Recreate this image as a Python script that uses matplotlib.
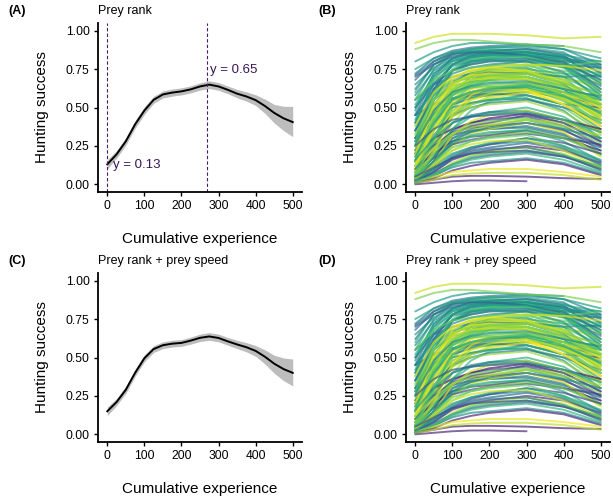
import numpy as np
import matplotlib
matplotlib.use('Agg')
import matplotlib.pyplot as plt

plt.rcParams['font.family'] = ['Liberation Sans', 'DejaVu Sans']

# population curve, x every 25
xs = [0, 25, 50, 75, 100, 125, 150, 175, 200, 225, 250, 275, 300, 325, 350, 375, 400, 425, 450, 475, 500]
a_mean = [0.13, 0.195, 0.28, 0.39, 0.48, 0.55, 0.585, 0.597, 0.605, 0.618, 0.637, 0.649, 0.637, 0.615, 0.59, 0.572, 0.548, 0.51, 0.465, 0.43, 0.405]
a_low = [0.10, 0.17, 0.255, 0.365, 0.455, 0.527, 0.562, 0.574, 0.582, 0.595, 0.613, 0.624, 0.612, 0.59, 0.563, 0.542, 0.513, 0.462, 0.40, 0.35, 0.31]
a_up = [0.16, 0.22, 0.305, 0.415, 0.505, 0.573, 0.608, 0.62, 0.628, 0.641, 0.661, 0.674, 0.662, 0.64, 0.617, 0.602, 0.583, 0.555, 0.52, 0.508, 0.507]
c_mean = [0.15, 0.21, 0.29, 0.40, 0.495, 0.555, 0.58, 0.59, 0.595, 0.61, 0.628, 0.637, 0.627, 0.605, 0.585, 0.567, 0.543, 0.505, 0.46, 0.425, 0.40]
c_low = [0.122, 0.187, 0.267, 0.377, 0.472, 0.533, 0.558, 0.568, 0.573, 0.587, 0.604, 0.612, 0.602, 0.58, 0.558, 0.537, 0.508, 0.458, 0.398, 0.35, 0.315]
c_up = [0.178, 0.233, 0.313, 0.423, 0.518, 0.577, 0.602, 0.612, 0.617, 0.633, 0.652, 0.662, 0.652, 0.63, 0.612, 0.597, 0.578, 0.55, 0.515, 0.497, 0.49]

# markers for panel A
vlines_x = [0, 268]
label_low = 'y = 0.13'
label_peak = 'y = 0.65'

# individual curves, read at these x
ind_x = [0, 50, 100, 150, 200, 300, 400, 500]
ind_curves = [
    [0.92, 0.96, 0.98, 0.98, 0.98, 0.97, 0.95, 0.96],
    [0.71, 0.80, 0.86, 0.88, 0.89, 0.90, 0.88, 0.78],
    [0.72, 0.82, 0.87, 0.89, 0.90, 0.91, 0.90, None],
    [0.55, 0.75, 0.85, 0.88, 0.89, 0.89, 0.86, 0.72],
    [0.45, 0.70, 0.82, 0.86, 0.87, 0.88, 0.84, 0.65],
    [0.80, 0.86, 0.90, 0.92, 0.92, 0.91, 0.88, 0.82],
    [0.60, 0.78, 0.85, 0.87, 0.88, 0.87, 0.82, 0.70],
    [0.35, 0.62, 0.78, 0.84, 0.86, 0.86, 0.80, 0.62],
    [0.70, 0.78, 0.83, 0.85, 0.86, 0.84, 0.78, 0.60],
    [0.25, 0.55, 0.74, 0.80, 0.83, 0.85, 0.80, 0.68],
    [0.40, 0.65, 0.78, 0.82, 0.84, 0.86, 0.83, 0.75],
    [0.50, 0.72, 0.80, 0.83, 0.84, 0.83, 0.77, 0.58],
    [0.88, 0.92, 0.94, 0.94, 0.93, 0.91, 0.90, 0.86],
    [0.65, 0.76, 0.82, 0.84, 0.85, 0.84, 0.81, 0.80],
    [0.20, 0.45, 0.65, 0.73, 0.77, 0.80, 0.72, 0.55],
    [0.15, 0.40, 0.60, 0.70, 0.75, 0.78, 0.70, 0.50],
    [0.30, 0.52, 0.66, 0.72, 0.75, 0.76, 0.68, 0.52],
    [0.10, 0.35, 0.58, 0.68, 0.72, 0.75, 0.70, 0.62],
    [0.25, 0.48, 0.62, 0.68, 0.71, 0.73, 0.66, 0.45],
    [0.45, 0.60, 0.68, 0.72, 0.74, 0.75, 0.72, 0.70],
    [0.08, 0.30, 0.55, 0.66, 0.70, 0.74, 0.68, 0.50],
    [0.35, 0.55, 0.66, 0.70, 0.72, 0.72, 0.65, 0.48],
    [0.12, 0.38, 0.60, 0.70, 0.74, 0.77, 0.74, 0.67],
    [0.20, 0.42, 0.58, 0.65, 0.68, 0.70, 0.64, 0.45],
    [0.05, 0.25, 0.50, 0.62, 0.68, 0.72, 0.67, 0.53],
    [0.40, 0.58, 0.67, 0.70, 0.71, 0.70, 0.62, 0.42],
    [0.55, 0.65, 0.70, 0.72, 0.73, 0.72, 0.70, 0.71],
    [0.18, 0.40, 0.58, 0.66, 0.70, 0.73, 0.70, 0.58],
    [0.10, 0.30, 0.50, 0.58, 0.62, 0.65, 0.58, 0.42],
    [0.05, 0.22, 0.45, 0.56, 0.60, 0.64, 0.60, 0.48],
    [0.30, 0.45, 0.55, 0.59, 0.61, 0.62, 0.55, 0.38],
    [0.15, 0.35, 0.52, 0.58, 0.60, 0.62, 0.56, 0.40],
    [0.22, 0.40, 0.52, 0.56, 0.58, 0.60, 0.57, 0.52],
    [0.08, 0.28, 0.48, 0.55, 0.58, 0.60, 0.52, 0.35],
    [0.35, 0.48, 0.55, 0.57, 0.58, 0.60, 0.60, 0.58],
    [0.03, 0.18, 0.40, 0.52, 0.57, 0.62, 0.57, 0.44],
    [0.12, 0.30, 0.46, 0.52, 0.55, 0.58, 0.52, 0.36],
    [0.45, 0.52, 0.56, 0.58, 0.59, 0.58, 0.52, 0.50],
    [0.20, 0.36, 0.48, 0.53, 0.55, 0.56, 0.50, 0.34],
    [0.06, 0.24, 0.44, 0.52, 0.56, 0.60, 0.58, 0.55],
    [0.28, 0.42, 0.50, 0.53, 0.55, 0.56, 0.48, 0.30],
    [0.02, 0.15, 0.36, 0.48, 0.54, 0.58, 0.52, 0.40],
    [0.15, 0.32, 0.45, 0.50, 0.53, 0.55, 0.50, 0.42],
    [0.10, 0.28, 0.44, 0.50, 0.52, 0.54, 0.47, 0.33],
    [0.05, 0.18, 0.32, 0.38, 0.40, 0.45, 0.40, 0.28],
    [0.08, 0.22, 0.35, 0.40, 0.42, 0.44, 0.38, 0.25],
    [0.03, 0.15, 0.30, 0.36, 0.38, 0.42, 0.36, 0.22],
    [0.12, 0.25, 0.34, 0.37, 0.38, 0.40, 0.35, 0.25],
    [0.02, 0.12, 0.28, 0.35, 0.38, 0.42, 0.40, 0.35],
    [0.06, 0.18, 0.30, 0.34, 0.36, 0.38, 0.33, 0.20],
    [0.10, 0.20, 0.28, 0.31, 0.32, 0.35, 0.30, 0.22],
    [0.04, 0.14, 0.26, 0.31, 0.33, 0.36, 0.31, 0.19],
    [0.15, 0.25, 0.32, 0.35, 0.36, 0.37, 0.32, 0.24],
    [0.02, 0.10, 0.25, 0.33, 0.36, 0.40, 0.34, 0.18],
    [0.08, 0.17, 0.26, 0.29, 0.31, 0.33, 0.30, 0.26],
    [0.05, 0.15, 0.27, 0.32, 0.34, 0.35, 0.28, 0.15],
    [0.20, 0.30, 0.36, 0.40, 0.43, 0.46, 0.42, 0.36],
    [0.03, 0.12, 0.22, 0.28, 0.31, 0.34, 0.30, 0.20],
    [0.02, 0.08, 0.16, 0.20, 0.22, 0.25, 0.22, 0.14],
    [0.05, 0.12, 0.20, 0.24, 0.26, 0.28, 0.24, 0.15],
    [0.01, 0.06, 0.14, 0.19, 0.21, 0.24, 0.20, 0.10],
    [0.03, 0.09, 0.17, 0.21, 0.23, 0.24, 0.19, 0.09],
    [0.02, 0.07, 0.13, 0.17, 0.19, 0.21, 0.18, 0.12],
    [0.01, 0.05, 0.12, 0.16, 0.18, 0.20, 0.16, 0.08],
    [0.04, 0.10, 0.18, 0.23, 0.26, 0.30, 0.27, 0.20],
    [0.02, 0.06, 0.11, 0.14, 0.15, 0.17, 0.14, 0.07],
    [0.01, 0.04, 0.09, 0.12, 0.14, 0.16, 0.13, 0.06],
    [0.06, 0.14, 0.24, 0.28, 0.30, 0.32, 0.25, 0.12],
    [0.02, 0.05, 0.08, 0.09, 0.10, 0.10, 0.08, 0.05],
    [0.01, 0.03, 0.05, 0.055, 0.055, 0.05, 0.04, 0.035],
    [0.00, 0.01, 0.02, 0.025, 0.025, 0.02, None, None],
    [0.01, 0.03, 0.06, 0.07, 0.075, 0.075, 0.06, 0.03],
    [0.12, 0.45, 0.68, 0.75, 0.76, 0.74, 0.64, 0.50],
    [0.18, 0.50, 0.66, 0.70, 0.72, 0.72, 0.66, 0.58],
    [0.08, 0.40, 0.62, 0.68, 0.70, 0.68, 0.58, 0.45],
    [0.25, 0.55, 0.70, 0.74, 0.75, 0.73, 0.68, 0.66],
    [0.05, 0.30, 0.52, 0.60, 0.63, 0.62, 0.52, 0.38],
    [0.15, 0.45, 0.62, 0.66, 0.67, 0.65, 0.55, 0.40],
    [0.30, 0.60, 0.74, 0.78, 0.80, 0.80, 0.76, 0.72],
    [0.10, 0.35, 0.55, 0.62, 0.64, 0.63, 0.55, 0.48],
    [0.45, 0.62, 0.72, 0.76, 0.78, 0.80, 0.78, 0.76],
    [0.38, 0.55, 0.64, 0.67, 0.68, 0.68, 0.62, 0.56],
    [0.50, 0.65, 0.74, 0.78, 0.80, 0.81, 0.80, 0.78],
    [0.33, 0.50, 0.60, 0.63, 0.64, 0.63, 0.54, 0.40],
    [0.28, 0.46, 0.56, 0.60, 0.62, 0.64, 0.60, 0.55],
    [0.62, 0.78, 0.84, 0.86, 0.87, 0.88, 0.85, 0.76],
    [0.48, 0.72, 0.82, 0.85, 0.86, 0.86, 0.82, 0.70],
    [0.30, 0.62, 0.78, 0.83, 0.85, 0.86, 0.83, 0.73],
    [0.58, 0.74, 0.81, 0.83, 0.84, 0.84, 0.78, 0.62],
    [0.40, 0.68, 0.80, 0.83, 0.84, 0.85, 0.80, 0.66],
    [0.68, 0.80, 0.85, 0.86, 0.86, 0.84, 0.79, 0.68],
    [0.22, 0.55, 0.74, 0.80, 0.82, 0.84, 0.82, 0.77],
    [0.52, 0.70, 0.78, 0.81, 0.82, 0.82, 0.76, 0.58],
    [0.35, 0.60, 0.74, 0.79, 0.81, 0.82, 0.77, 0.64],
    [0.75, 0.82, 0.86, 0.87, 0.87, 0.86, 0.84, 0.80],
    [0.28, 0.58, 0.75, 0.81, 0.83, 0.83, 0.78, 0.60],
    [0.42, 0.66, 0.77, 0.80, 0.81, 0.80, 0.73, 0.55],
    [0.10, 0.42, 0.64, 0.72, 0.74, 0.74, 0.66, 0.52],
    [0.06, 0.35, 0.58, 0.66, 0.69, 0.70, 0.63, 0.50],
    [0.20, 0.50, 0.66, 0.71, 0.72, 0.70, 0.60, 0.44],
    [0.04, 0.28, 0.54, 0.64, 0.68, 0.70, 0.64, 0.55],
    [0.14, 0.44, 0.62, 0.68, 0.70, 0.69, 0.60, 0.46],
    [0.08, 0.38, 0.60, 0.68, 0.71, 0.72, 0.66, 0.58],
    [0.24, 0.52, 0.64, 0.68, 0.69, 0.68, 0.58, 0.42],
    [0.02, 0.20, 0.46, 0.58, 0.63, 0.66, 0.60, 0.50],
    [0.16, 0.42, 0.58, 0.63, 0.65, 0.66, 0.60, 0.52],
    [0.32, 0.55, 0.66, 0.70, 0.71, 0.70, 0.63, 0.52],
    [0.06, 0.30, 0.52, 0.60, 0.63, 0.65, 0.58, 0.46],
    [0.12, 0.36, 0.54, 0.60, 0.62, 0.61, 0.52, 0.38],
    [0.18, 0.40, 0.55, 0.60, 0.62, 0.63, 0.57, 0.47],
    [0.03, 0.22, 0.45, 0.55, 0.59, 0.62, 0.56, 0.44],
    [0.26, 0.48, 0.60, 0.64, 0.66, 0.67, 0.62, 0.57],
    [0.04, 0.18, 0.36, 0.44, 0.47, 0.50, 0.44, 0.30],
    [0.10, 0.26, 0.40, 0.45, 0.47, 0.48, 0.42, 0.30],
    [0.02, 0.14, 0.32, 0.41, 0.45, 0.48, 0.42, 0.30],
    [0.16, 0.30, 0.40, 0.44, 0.46, 0.47, 0.42, 0.34],
    [0.07, 0.20, 0.33, 0.39, 0.41, 0.43, 0.37, 0.27],
    [0.25, 0.36, 0.42, 0.44, 0.45, 0.46, 0.40, 0.28],
    [0.03, 0.15, 0.28, 0.34, 0.37, 0.40, 0.36, 0.30],
    [0.12, 0.24, 0.33, 0.37, 0.39, 0.42, 0.38, 0.32],
    [0.03, 0.10, 0.19, 0.24, 0.27, 0.30, 0.25, 0.16],
    [0.02, 0.08, 0.17, 0.22, 0.24, 0.27, 0.23, 0.13],
    [0.04, 0.12, 0.22, 0.26, 0.28, 0.29, 0.22, 0.11],
    [0.01, 0.06, 0.13, 0.18, 0.20, 0.22, 0.19, 0.11],
    [0.05, 0.11, 0.17, 0.20, 0.21, 0.22, 0.18, 0.10],
    [0.55, 0.68, 0.74, 0.76, 0.77, 0.78, 0.77, 0.80],
    [0.38, 0.60, 0.70, 0.74, 0.76, 0.78, 0.77, 0.74],
]
# colour value (viridis) for each individual
ind_col = [0.92, 0.45, 0.40, 0.60, 0.35, 0.55, 0.65, 0.50, 0.30, 0.75,
           0.45, 0.58, 0.80, 0.50, 0.85, 0.70, 0.55, 0.90, 0.48, 0.62,
           0.95, 0.40, 0.78, 0.68, 0.88, 0.52, 0.42, 0.60, 0.82, 0.92,
           0.45, 0.72, 0.35, 0.98, 0.55, 0.86, 0.62, 0.30, 0.76, 0.94,
           0.50, 0.66, 0.40, 0.84, 0.10, 0.25, 0.55, 0.15, 0.90, 0.45,
           0.08, 0.70, 0.35, 0.95, 0.20, 0.60, 0.05, 0.80, 0.12, 0.50,
           0.88, 0.40, 0.30, 0.65, 0.20, 0.48, 0.10, 0.75, 0.97, 0.08,
           0.10, 0.90, 0.99, 0.93, 0.97, 0.87, 0.99, 0.80, 0.70, 0.95,
           0.45, 0.65, 0.35, 0.80, 0.57,
           0.42, 0.52, 0.38, 0.47, 0.60, 0.33, 0.55, 0.63, 0.44, 0.58,
           0.68, 0.50, 0.90, 0.82, 0.95, 0.74, 0.86, 0.78, 0.92, 0.96,
           0.72, 0.84, 0.66, 0.99, 0.58, 0.88, 0.48, 0.62, 0.40, 0.92,
           0.53, 0.78, 0.28, 0.45, 0.85, 0.58, 0.35, 0.92, 0.70, 0.25,
           0.75, 0.95]

W, H = 613, 500
fig = plt.figure(figsize=(6.13, 5.0), dpi=100)


def make_ax(left_px, top_px):
    ax = fig.add_axes([left_px / W, 1 - (top_px + 169) / H, 204 / W, 169 / H])
    ax.set_xlim(-25, 525)
    ax.set_ylim(-0.05, 1.05)
    ax.set_xticks([0, 100, 200, 300, 400, 500])
    ax.set_yticks([0, 0.25, 0.5, 0.75, 1.0])
    ax.set_yticklabels(['0.00', '0.25', '0.50', '0.75', '1.00'])
    for s in ['top', 'right']:
        ax.spines[s].set_visible(False)
    for s in ['left', 'bottom']:
        ax.spines[s].set_linewidth(1.3)
    ax.tick_params(labelsize=8.7, length=3, width=1, pad=3, colors='black')
    ax.set_xlabel('Cumulative experience', fontsize=11, labelpad=14)
    ax.set_ylabel('Hunting success', fontsize=11, labelpad=12)
    return ax


def draw_mean(ax, mean, low, up):
    ax.fill_between(xs, low, up, color='#bdbdbd', lw=0)
    ax.plot(xs, mean, color='black', lw=1.4)


def draw_individuals(ax):
    cmap = plt.get_cmap('viridis')
    for ys, c in zip(ind_curves, ind_col):
        y = np.array([np.nan if v is None else v for v in ys], dtype=float)
        ax.plot(ind_x, y, color=cmap(c), alpha=0.68, lw=1.4,
                solid_capstyle='round', solid_joinstyle='round')


axA = make_ax(98, 23)
draw_mean(axA, a_mean, a_low, a_up)
for xv in vlines_x:
    axA.axvline(xv, color='#4a1a63', lw=0.8, ls=(0, (3, 2)))
axA.text(15, 0.125, label_low, color='#3b1657', fontsize=9.5, va='center')
axA.text(276, 0.745, label_peak, color='#3b1657', fontsize=9.5, va='center')

axB = make_ax(406, 23)
draw_individuals(axB)

axC = make_ax(98, 273)
draw_mean(axC, c_mean, c_low, c_up)

axD = make_ax(406, 273)
draw_individuals(axD)

# panel tags and subtitles
for lab, px, py in [('(A)', 8, 11), ('(B)', 318, 11), ('(C)', 8, 261), ('(D)', 318, 261)]:
    fig.text(px / W, 1 - py / H, lab, fontsize=9, fontweight='bold', va='center')
for txt, px, py in [('Prey rank', 98, 11), ('Prey rank', 406, 11),
                    ('Prey rank + prey speed', 98, 261), ('Prey rank + prey speed', 406, 261)]:
    fig.text(px / W, 1 - py / H, txt, fontsize=9, va='center')

fig.savefig('out.png', dpi=100)
